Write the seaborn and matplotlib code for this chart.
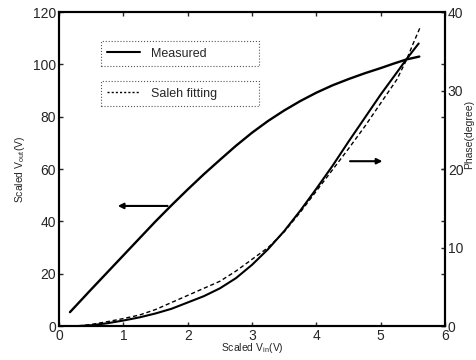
import matplotlib
matplotlib.use("Agg")
import matplotlib.pyplot as plt
import seaborn as sns
import pandas as pd

# AM/AM (left axis)
am_x = [0.17, 0.5, 0.75, 1.0, 1.25, 1.5, 1.75, 2.0, 2.25, 2.5, 2.75, 3.0, 3.25,
        3.5, 3.75, 4.0, 4.25, 4.5, 4.75, 5.0, 5.2, 5.4, 5.6]
am_y = [5.3, 14, 20.5, 27, 33.5, 40, 46.2, 52.2, 58.0, 63.5, 68.9, 73.9, 78.4,
        82.4, 86.0, 89.2, 92.0, 94.4, 96.6, 98.6, 100.3, 101.9, 103]

# AM/PM measured (right axis)
pm_meas_x = [0.3, 0.5, 0.75, 1.0, 1.25, 1.5, 1.75, 2.0, 2.25, 2.5, 2.75, 3.0,
             3.25, 3.5, 3.75, 4.0, 4.25, 4.5, 4.75, 5.0, 5.25, 5.4, 5.59]
pm_meas_y = [0.0, 0.1, 0.35, 0.7, 1.1, 1.6, 2.2, 3.0, 3.8, 4.8, 6.1, 7.8,
             9.8, 12.1, 14.7, 17.5, 20.4, 23.5, 26.5, 29.5, 32.3, 34.0, 36.0]

# AM/PM Saleh fitting (right axis)
pm_fit_x = [0.3, 0.5, 0.75, 1.0, 1.25, 1.5, 1.75, 2.0, 2.25, 2.5, 2.75, 3.0,
            3.25, 3.5, 3.75, 4.0, 4.25, 4.5, 4.75, 5.0, 5.25, 5.4, 5.5, 5.62]
pm_fit_y = [0.0, 0.2, 0.55, 0.95, 1.4, 2.1, 3.0, 3.9, 4.8, 5.7, 7.0, 8.5,
            10.0, 12.0, 14.5, 17.2, 19.9, 22.6, 25.4, 28.4, 31.4, 33.9, 35.9, 38.2]

x_ticks = [0, 1, 2, 3, 4, 5, 6]
left_ticks = [0, 20, 40, 60, 80, 100, 120]
right_ticks = [0, 10, 20, 30, 40]

sns.set_style("white")
plt.rcParams['font.family'] = ['Liberation Sans', 'DejaVu Sans']
plt.rcParams['mathtext.default'] = 'regular'

fig = plt.figure(figsize=(4.76, 3.6), dpi=100)
ax = fig.add_axes([0.124, 0.0944, 0.811, 0.872])
ax2 = ax.twinx()

am_df = pd.DataFrame({"x": am_x, "y": am_y})
meas_df = pd.DataFrame({"x": pm_meas_x, "y": pm_meas_y})
fit_df = pd.DataFrame({"x": pm_fit_x, "y": pm_fit_y})

sns.lineplot(data=am_df, x="x", y="y", ax=ax, color="black", lw=1.7, sort=False)
sns.lineplot(data=meas_df, x="x", y="y", ax=ax2, color="black", lw=1.5, sort=False)
sns.lineplot(data=fit_df, x="x", y="y", ax=ax2, color="black", lw=1.0,
             linestyle=(0, (3, 2)), sort=False)

ax.set_xlim(0, 6)
ax.set_ylim(0, 120)
ax2.set_ylim(0, 40)
ax.set_xticks(x_ticks)
ax.set_yticks(left_ticks)
ax2.set_yticks(right_ticks)

for a in (ax, ax2):
    for s in a.spines.values():
        s.set_linewidth(1.5)
        s.set_color("black")

ax.tick_params(direction="in", length=3, width=1, labelsize=10, pad=2,
               top=True, right=True, left=True, bottom=True)
ax2.tick_params(direction="in", length=3, width=1, labelsize=10, pad=2)

ax.set_xlabel("Scaled V$_{in}$(V)", fontsize=7.5, labelpad=-1)
ax.set_ylabel("Scaled V$_{out}$(V)", fontsize=7.5, labelpad=4)
ax2.set_ylabel("Phase(degree)", fontsize=7.5, rotation=90)
ax2.yaxis.set_label_coords(1.05, 0.61)

# arrows indicating axes
ax.annotate("", xy=(0.87, 45.9), xytext=(1.73, 45.9),
            arrowprops=dict(arrowstyle="-|>", color="black", lw=1.5,
                            mutation_scale=8))
ax2.annotate("", xy=(5.07, 21.0), xytext=(4.48, 21.0),
             arrowprops=dict(arrowstyle="-|>", color="black", lw=1.5,
                             mutation_scale=8))

# legends: two separate dotted boxes
h1, = ax.plot([], [], color="black", lw=1.5)
h2, = ax.plot([], [], color="black", lw=1.0, linestyle=(0, (1.5, 1.5)))


def style_frame(lg):
    fr = lg.get_frame()
    fr.set_linestyle(":")
    fr.set_edgecolor("#555555")
    fr.set_linewidth(0.8)


leg1 = ax.legend([h1], ["Measured"], loc="upper left",
                 bbox_to_anchor=(0.093, 0.927, 0.441, 0.0), mode="expand",
                 fontsize=9, handlelength=2.6, handletextpad=0.9,
                 borderpad=0.5, fancybox=False, framealpha=1)
style_frame(leg1)
ax.add_artist(leg1)
leg2 = ax.legend([h2], ["Saleh fitting"], loc="upper left",
                 bbox_to_anchor=(0.093, 0.799, 0.441, 0.0), mode="expand",
                 fontsize=9, handlelength=2.6, handletextpad=0.9,
                 borderpad=0.5, fancybox=False, framealpha=1)
style_frame(leg2)

fig.savefig("out.png", dpi=100)
